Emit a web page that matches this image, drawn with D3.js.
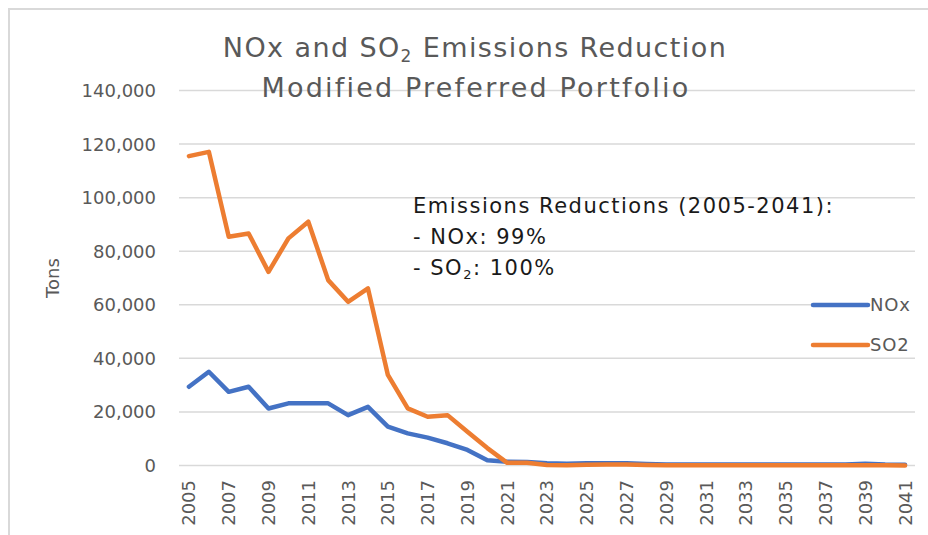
<!DOCTYPE html>
<html lang="en">
<head>
    <title>NOx and SO2 Emissions Reduction</title>
    <script src="https://d3js.org/d3.v7.min.js"></script>
    <style>
        body { margin: 0; background: #fff; }
        text { font-family: "DejaVu Sans", Verdana, sans-serif; }
    </style>
</head>
<body>
<svg id="chart"></svg>

<script>

    // values (tons)
    const years = ["2005","2006","2007","2008","2009","2010","2011","2012","2013","2014",
        "2015","2016","2017","2018","2019","2020","2021","2022","2023","2024",
        "2025","2026","2027","2028","2029","2030","2031","2032","2033","2034",
        "2035","2036","2037","2038","2039","2040","2041"];
    const noxValues = [29400, 35000, 27500, 29400, 21300, 23200, 23200, 23200, 18800, 21900,
        14500, 12000, 10400, 8300, 5800, 2000, 1400, 1300, 800, 700,
        800, 800, 800, 600, 400, 400, 400, 400, 400, 400,
        400, 400, 400, 400, 700, 400, 300];
    const so2Values = [115500, 117100, 85400, 86600, 72300, 84800, 91000, 69200, 61100, 66100,
        33800, 21300, 18200, 18800, 12600, 6500, 1000, 1000, 200, 100,
        300, 400, 400, 200, 100, 100, 100, 100, 100, 100,
        100, 100, 100, 100, 100, 100, 0];
    const yTicks = [0, 20000, 40000, 60000, 80000, 100000, 120000, 140000];
    const seriesNames = ["NOx", "SO2"];
    const seriesColors = ["#4472C4", "#ED7D31"];

    let width = 928,
        height = 535,
        margin = {top: 90.5, right: 13, bottom: 69.5, left: 179};

    let svg = d3.select("#chart")
        .attr("width", width)
        .attr("height", height);

    // chart frame (top and left edges visible)
    svg.append("path")
        .attr("d", `M9,${height} V9 H${width}`)
        .attr("fill", "none")
        .attr("stroke", "#d9d9d9")
        .attr("stroke-width", 2);

    let x = d3.scalePoint()
        .domain(years)
        .range([margin.left, width - margin.right])
        .padding(0.5);

    let y = d3.scaleLinear()
        .domain([0, 140000])
        .range([height - margin.bottom, margin.top]);

    // gridlines
    svg.append("g")
        .selectAll("line")
        .data(yTicks)
        .join("line")
        .attr("x1", margin.left)
        .attr("x2", width - margin.right)
        .attr("y1", d => y(d))
        .attr("y2", d => y(d))
        .attr("stroke", "#d9d9d9")
        .attr("stroke-width", 1.5);

    // y tick labels
    svg.append("g")
        .selectAll("text")
        .data(yTicks)
        .join("text")
        .attr("x", 156)
        .attr("y", d => y(d))
        .attr("dy", "0.36em")
        .attr("text-anchor", "end")
        .attr("font-size", 18)
        .attr("fill", "#595959")
        .text(d => d3.format(",")(d));

    // x tick labels, every other year
    svg.append("g")
        .selectAll("text")
        .data(years.filter((d, i) => i % 2 === 0))
        .join("text")
        .attr("transform", d => `translate(${x(d)},480) rotate(-90)`)
        .attr("dy", "0.36em")
        .attr("text-anchor", "end")
        .attr("font-size", 18)
        .attr("fill", "#595959")
        .text(d => d);

    // y axis title
    svg.append("text")
        .attr("transform", "translate(53,278) rotate(-90)")
        .attr("dy", "0.36em")
        .attr("text-anchor", "middle")
        .attr("font-size", 18)
        .attr("fill", "#595959")
        .text("Tons");

    // lines
    let line = d3.line()
        .x((d, i) => x(years[i]))
        .y(d => y(d));

    [noxValues, so2Values].forEach((vals, k) => {
        svg.append("path")
            .datum(vals)
            .attr("d", line)
            .attr("fill", "none")
            .attr("stroke", seriesColors[k])
            .attr("stroke-width", 4.5)
            .attr("stroke-linejoin", "round")
            .attr("stroke-linecap", "round");
    });

    // title
    let title = svg.append("g")
        .attr("fill", "#595959")
        .attr("font-size", 27)
        .attr("text-anchor", "middle");

    let t1 = title.append("text").attr("x", 475).attr("y", 57).attr("letter-spacing", 1.4);
    t1.append("tspan").text("NOx and SO");
    t1.append("tspan").attr("font-size", 17).attr("dy", 5).text("2");
    t1.append("tspan").attr("dy", -5).text(" Emissions Reduction");

    title.append("text").attr("x", 476).attr("y", 97).attr("letter-spacing", 2.2)
        .text("Modified Preferred Portfolio");

    // annotation
    let note = svg.append("g")
        .attr("fill", "#1a1a1a")
        .attr("font-size", 21)
        .attr("letter-spacing", 1.5);

    note.append("text").attr("x", 413).attr("y", 213).text("Emissions Reductions (2005-2041):");
    note.append("text").attr("x", 413).attr("y", 244).text("- NOx: 99%");
    let n3 = note.append("text").attr("x", 413).attr("y", 275);
    n3.append("tspan").text("- SO");
    n3.append("tspan").attr("font-size", 13).attr("dy", 4).text("2");
    n3.append("tspan").attr("dy", -4).text(": 100%");

    // legend
    let legend = svg.append("g");
    legend.append("rect")
        .attr("x", 811).attr("y", 290)
        .attr("width", 104).attr("height", 66)
        .attr("fill", "#fff");

    let items = legend.selectAll("g")
        .data(seriesNames)
        .join("g")
        .attr("transform", (d, i) => `translate(813,${305 + i * 40})`);

    items.append("line")
        .attr("x1", 0).attr("x2", 55)
        .attr("stroke", (d, i) => seriesColors[i])
        .attr("stroke-width", 4.5)
        .attr("stroke-linecap", "round");

    items.append("text")
        .attr("x", 57)
        .attr("dy", "0.36em")
        .attr("font-size", 18)
        .attr("letter-spacing", 0.8)
        .attr("fill", "#595959")
        .text(d => d);

</script>
</body>
</html>
